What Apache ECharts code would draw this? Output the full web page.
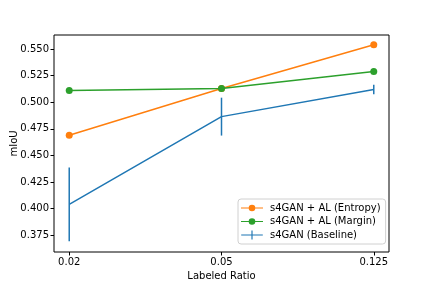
<!DOCTYPE html>
<html><head><meta charset="utf-8">
<script src="https://cdn.jsdelivr.net/npm/echarts@6/dist/echarts.min.js"></script>
<style>html,body{margin:0;padding:0;background:#fff}#c{width:432px;height:288px}</style>
</head><body><div id="c"></div>
<script>
const categories = ['0.02', '0.05', '0.125'];
const entropy = [0.469, 0.513, 0.554];
const margin = [0.511, 0.513, 0.529];
const baseline = [0.404, 0.4865, 0.512];
const baselineErr = [0.0346, 0.0178, 0.0045];
const yTicks = [0.375, 0.400, 0.425, 0.450, 0.475, 0.500, 0.525, 0.550];

const idx = categories.map((c, i) => i);
const font = 'DejaVu Sans';
const chart = echarts.init(document.getElementById('c'), null, {renderer: 'canvas'});
const lineCircle = 'path://M0,4.35H24V5.65H0Z M15.6,5 A3.6,3.6 0 1 1 8.4,5 A3.6,3.6 0 1 1 15.6,5Z';
const lineBar = 'path://M0,4.35H24V5.65H0Z M11.35,0H12.65V10H11.35Z';
chart.setOption({
  animation: false,
  textStyle: {fontFamily: font},
  grid: {left: 54, right: 43, top: 35, bottom: 36, containLabel: false, outerBoundsMode: 'none',
    show: true, borderColor: '#000', borderWidth: 1, backgroundColor: 'transparent'},
  xAxis: {
    type: 'value', min: -0.1, max: 2.1,
    name: 'Labeled Ratio', nameLocation: 'middle', nameGap: 19, nameMoveOverlap: false,
    nameTextStyle: {color: '#000', fontSize: 10, fontFamily: font},
    axisLine: {show: false, onZero: false},
    splitLine: {show: false},
    axisTick: {show: true, length: 3.5, lineStyle: {color: '#000', width: 1}, customValues: idx},
    axisLabel: {color: '#000', fontSize: 10, fontFamily: font, margin: 5, customValues: idx,
      formatter: v => categories[Math.round(v)]}
  },
  yAxis: {
    type: 'value', min: 0.3593, max: 0.5632,
    name: 'mIoU', nameLocation: 'middle', nameGap: 35, nameMoveOverlap: false,
    nameTextStyle: {color: '#000', fontSize: 10, fontFamily: font},
    axisLine: {show: false, onZero: false},
    splitLine: {show: false},
    axisTick: {show: true, length: 3.5, lineStyle: {color: '#000', width: 1}, customValues: yTicks},
    axisLabel: {color: '#000', fontSize: 10, fontFamily: font, margin: 5, customValues: yTicks,
      formatter: v => v.toFixed(3)}
  },
  legend: {
    orient: 'vertical', left: 238, top: 199,
    data: [
      {name: 's4GAN + AL (Entropy)', icon: lineCircle},
      {name: 's4GAN + AL (Margin)', icon: lineCircle},
      {name: 's4GAN (Baseline)', icon: lineBar}
    ],
    itemWidth: 22, itemHeight: 9, itemGap: 3.5,
    padding: [4, 5, 4, 3],
    backgroundColor: '#fff', borderColor: '#d0d0d0', borderWidth: 1, borderRadius: 3,
    textStyle: {color: '#000', fontSize: 10, fontFamily: font, padding: [0, 0, 0, 2]}
  },
  series: [
    {
      name: 's4GAN (Baseline)', type: 'line', color: '#1f77b4',
      data: idx.map(i => [i, baseline[i]]),
      showSymbol: false, symbol: 'none', lineStyle: {width: 1.5, color: '#1f77b4'}, z: 1
    },
    {
      name: 's4GAN (Baseline)', type: 'custom', color: '#1f77b4',
      data: idx.map(i => [i, baseline[i] - baselineErr[i], baseline[i] + baselineErr[i]]),
      renderItem: (params, api) => {
        const p1 = api.coord([api.value(0), api.value(1)]);
        const p2 = api.coord([api.value(0), api.value(2)]);
        return {type: 'line', shape: {x1: p1[0], y1: p1[1], x2: p2[0], y2: p2[1]},
          style: {stroke: '#1f77b4', lineWidth: 1.5}};
      }, z: 1
    },
    {
      name: 's4GAN + AL (Entropy)', type: 'line', color: '#ff7f0e',
      data: idx.map(i => [i, entropy[i]]),
      symbol: 'circle', symbolSize: 7, lineStyle: {width: 1.5}, itemStyle: {color: '#ff7f0e'}, z: 2
    },
    {
      name: 's4GAN + AL (Margin)', type: 'line', color: '#2ca02c',
      data: idx.map(i => [i, margin[i]]),
      symbol: 'circle', symbolSize: 7, lineStyle: {width: 1.5}, itemStyle: {color: '#2ca02c'}, z: 3
    }
  ]
});
</script></body></html>
